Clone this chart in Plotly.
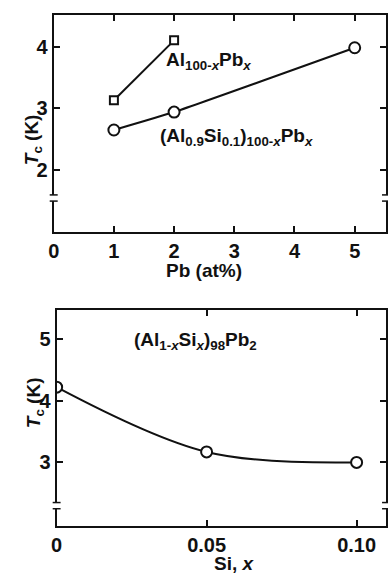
import plotly.graph_objects as go

# ---- data ----
pb_al = [1, 2]
tc_al = [3.13, 4.10]
pb_alsi = [1, 2, 5]
tc_alsi = [2.65, 2.94, 3.98]
si_x = [0, 0.05, 0.10]
tc_si = [4.22, 3.17, 3.00]

top_xticks = [0, 1, 2, 3, 4, 5]
top_yticks = [2, 3, 4]
bot_xticks = [0, 0.05, 0.10]
bot_xticklabels = ["0", "0.05", "0.10"]
bot_yticks = [3, 4, 5]
top_break = 1.55
bot_break = 2.3

FONT = "Liberation Sans"
BLACK = "#111111"

fig = go.Figure()

mk_sq = dict(symbol="square", size=8, color="white", line=dict(color=BLACK, width=2))
mk_ci = dict(symbol="circle", size=11, color="white", line=dict(color=BLACK, width=2))

fig.add_trace(go.Scatter(x=pb_al, y=tc_al, mode="lines+markers", marker=mk_sq,
                         line=dict(color=BLACK, width=2), xaxis="x", yaxis="y"))
fig.add_trace(go.Scatter(x=pb_alsi, y=tc_alsi, mode="lines+markers", marker=mk_ci,
                         line=dict(color=BLACK, width=2, shape="spline", smoothing=0.4),
                         xaxis="x", yaxis="y"))
fig.add_trace(go.Scatter(x=si_x, y=tc_si, mode="lines+markers", marker=mk_ci,
                         line=dict(color=BLACK, width=2, shape="spline", smoothing=1.0),
                         xaxis="x2", yaxis="y2"))

axcommon = dict(showgrid=False, zeroline=False, showline=True, linecolor=BLACK, linewidth=2,
                mirror="allticks", ticks="inside", ticklen=6, tickwidth=2, tickcolor=BLACK,
                tickfont=dict(family=FONT, size=20, color=BLACK, weight="bold"))

fig.update_layout(
    width=388, height=577, margin=dict(l=0, r=0, t=0, b=0),
    paper_bgcolor="white", plot_bgcolor="white", showlegend=False,
    xaxis=dict(domain=[48.7/388, 1.0], range=[0, 5.52], tickvals=top_xticks,
               anchor="y", **axcommon),
    yaxis=dict(domain=[1-232/577, 1-15/577], range=[1.0, 4.51], tickvals=top_yticks,
               anchor="x", **axcommon),
    xaxis2=dict(domain=[51.7/388, 1.0], range=[0, 0.1098], tickvals=bot_xticks,
                ticktext=bot_xticklabels, anchor="y2", **axcommon),
    yaxis2=dict(domain=[1-526/577, 1-310/577], range=[1.97, 5.47], tickvals=bot_yticks,
                anchor="x2", **axcommon),
)

tf = dict(family=FONT, size=19, color=BLACK, weight="bold")
ann = [
    dict(x=2.57, y=3.77, xref="x", yref="y", text="Al<sub>100-<i>x</i></sub>Pb<sub><i>x</i></sub>"),
    dict(x=3.04, y=2.54, xref="x", yref="y",
         text="(Al<sub>0.9</sub>Si<sub>0.1</sub>)<sub>100-<i>x</i></sub>Pb<sub><i>x</i></sub>"),
    dict(x=0.0463, y=4.96, xref="x2", yref="y2",
         text="(Al<sub>1-<i>x</i></sub>Si<sub><i>x</i></sub>)<sub>98</sub>Pb<sub>2</sub>"),
    dict(x=202/388, y=1-270/577, xref="paper", yref="paper", text="Pb (at%)"),
    dict(x=233/388, y=1/577, xref="paper", yref="paper", yanchor="bottom", text="Si, <i>x</i>"),
    dict(x=13/388, y=1-112/577, xref="paper", yref="paper", text="<i>T</i><sub>c</sub> (K)", textangle=-90),
    dict(x=15/388, y=1-430/577, xref="paper", yref="paper", text="<i>T</i><sub>c</sub> (K)", textangle=-90),
]
for a in ann:
    a.update(showarrow=False, font=tf)
    fig.add_annotation(**a)

# axis break marks
shapes = []
for xr, yr, yb, dy in [("x domain", "y", top_break, 0.05), ("x2 domain", "y2", bot_break, 0.05)]:
    for xc in [0.0, 1.0]:
        shapes.append(dict(type="rect", xref=xr, yref=yr, x0=xc-0.012, x1=xc+0.012,
                           y0=yb-dy, y1=yb+dy, fillcolor="white", line=dict(width=0)))
        for yy in [yb-dy, yb+dy]:
            shapes.append(dict(type="line", xref=xr, yref=yr, x0=xc-0.012, x1=xc+0.012,
                               y0=yy, y1=yy, line=dict(color=BLACK, width=1.5)))
fig.update_layout(shapes=shapes)

fig.write_html("out.html")
